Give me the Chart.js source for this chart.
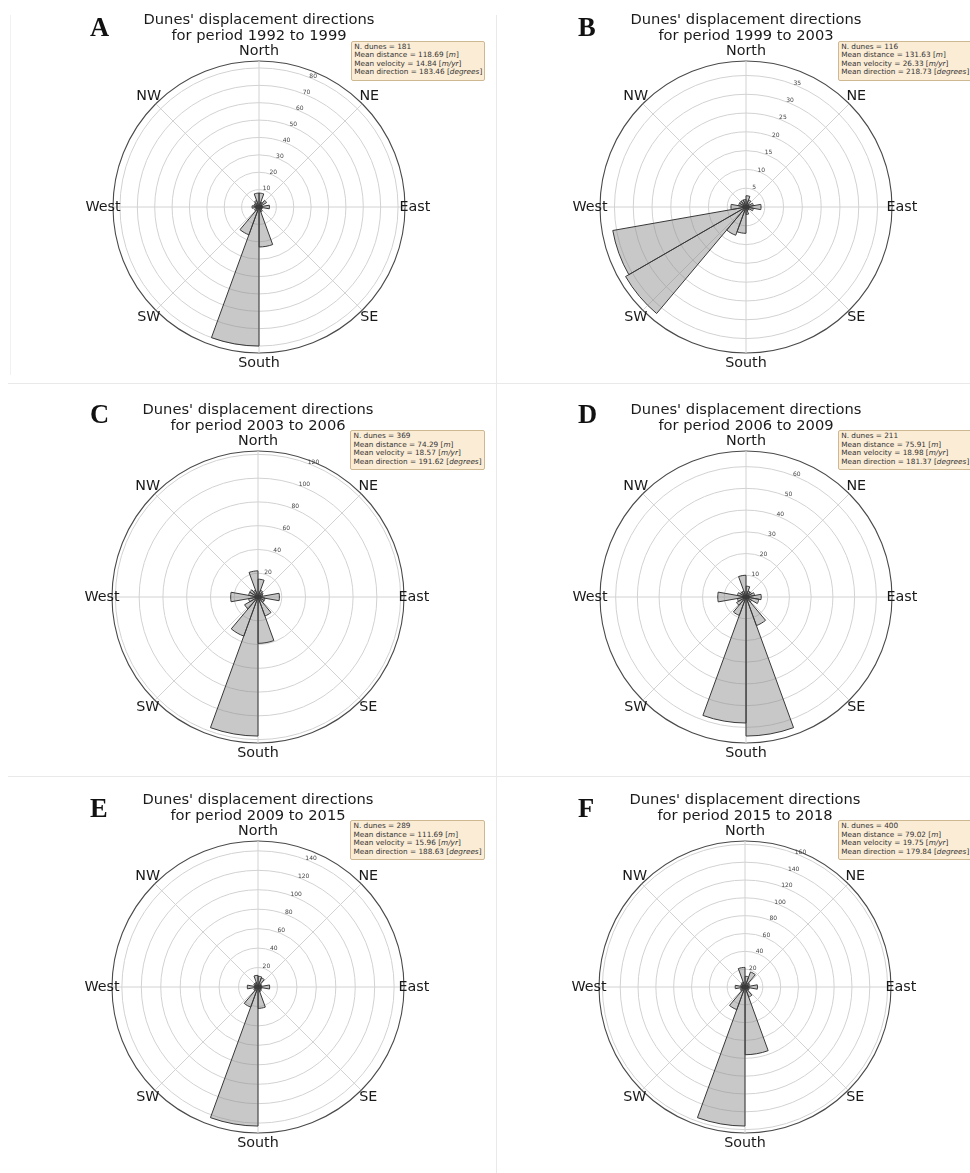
<!DOCTYPE html>
<html><head><meta charset="utf-8">
<script src="https://cdn.jsdelivr.net/npm/chart.js@4"></script>
<style>
html,body{margin:0;padding:0;background:#fff;overflow:hidden;}
#page{position:relative;width:970px;height:1173px;}
canvas{position:absolute;}
.letter{position:absolute;font-family:'Liberation Serif','DejaVu Serif',serif;font-weight:bold;font-size:26.5px;line-height:26.5px;color:#111;}
.info{position:absolute;font-family:'DejaVu Sans',sans-serif;font-size:7.3px;line-height:8.6px;color:#333;background:#fbecd5;border:1px solid #cdb892;border-radius:2px;padding:1px 2px 2.5px 2.5px;white-space:nowrap;}
.sep{position:absolute;background:#e9e9e9;}
</style></head><body><div id="page"></div>
<script>
// ---- data ----
const binLabels = ['0-20°','20-40°','40-60°','60-80°','80-100°','100-120°','120-140°','140-160°','160-180°',
                   '180-200°','200-220°','220-240°','240-260°','260-280°','280-300°','300-320°','320-340°','340-360°'];
const compassLabels = ['North','NE','East','SE','South','SW','West','NW'];
const panelLetters = ['A','B','C','D','E','F'];
const periods = ['1992 to 1999','1999 to 2003','2003 to 2006','2006 to 2009','2009 to 2015','2015 to 2018'];
const countsA = [8, 3, 5, 2, 6, 2, 2, 3, 23, 80, 17, 3, 2, 4, 3, 3, 4, 8];
const countsB = [3, 2, 1, 2, 4, 2, 1, 1, 2, 7, 8, 37, 36, 4, 2, 2, 2, 2];
const countsC = [15, 6, 5, 4, 18, 6, 6, 17, 39, 117, 35, 13, 8, 23, 8, 8, 6, 22];
const countsD = [5, 3, 3, 4, 7, 6, 3, 14, 64, 58, 9, 5, 4, 13, 4, 3, 3, 10];
const countsE = [11, 10, 4, 4, 12, 4, 4, 5, 22, 143, 22, 5, 4, 11, 4, 5, 5, 12];
const countsF = [12, 18, 6, 5, 14, 5, 5, 12, 76, 156, 27, 6, 5, 11, 5, 5, 6, 22];
const tickStep = [10, 5, 20, 10, 20, 20];
const nDunes = [181, 116, 369, 211, 289, 400];
const meanDistance = ['118.69','131.63','74.29','75.91','111.69','79.02'];
const meanVelocity = ['14.84','26.33','18.57','18.98','15.96','19.75'];
const meanDirection = ['183.46','218.73','191.62','181.37','188.63','179.84'];
const allCounts = [countsA, countsB, countsC, countsD, countsE, countsF];

// ---- layout (positions only) ----
const centers = [[259,207],[746,207],[258,597],[746,597],[258,987],[745,987]];
const letterPos = [[90,36],[578,36],[90,422.7],[578,422.7],[90,817],[578,817]];
const infoPos = [[350.7,40.7],[837.7,40.7],[350,430],[837.7,430],[350,820],[837.7,820]];

const page = document.getElementById('page');
function addDiv(cls, css, html){const d=document.createElement('div');d.className=cls;Object.assign(d.style,css);if(html!==undefined)d.innerHTML=html;page.appendChild(d);return d;}
// panel separators
addDiv('sep',{left:'496px',top:'15px',width:'1px',height:'1158px'});
addDiv('sep',{left:'8px',top:'383px',width:'962px',height:'1px'});
addDiv('sep',{left:'8px',top:'776px',width:'962px',height:'1px'});
addDiv('sep',{left:'10px',top:'15px',width:'1px',height:'360px',background:'#f1f1f1'});

const isFrame = c => c.tick && Math.abs(c.tick.value - c.scale.max) < 1e-6;

const roseDecor = {
  id:'roseDecor',
  beforeDatasetsDraw(chart){
    const s = chart.scales.r, ctx = chart.ctx;
    const rr = s.getDistanceFromCenterForValue(s.max);
    ctx.save();
    ctx.strokeStyle = '#d2d2d2'; ctx.lineWidth = 1;
    for (let k = 0; k < compassLabels.length; k++) {
      const a = (k*45 - 90) * Math.PI/180;
      ctx.beginPath(); ctx.moveTo(s.xCenter, s.yCenter);
      ctx.lineTo(s.xCenter + rr*Math.cos(a), s.yCenter + rr*Math.sin(a)); ctx.stroke();
    }
    ctx.restore();
  },
  afterDraw(chart){
    const s = chart.scales.r, ctx = chart.ctx;
    const rr = s.getDistanceFromCenterForValue(s.max);
    ctx.save();
    ctx.textAlign = 'center'; ctx.textBaseline = 'middle';
    ctx.fillStyle = '#1a1a1a'; ctx.font = '14.3px "DejaVu Sans"';
    compassLabels.forEach((lab, k) => {
      const a = (k*45 - 90) * Math.PI/180, d = rr*1.068;
      ctx.fillText(lab, s.xCenter + d*Math.cos(a), s.yCenter + d*Math.sin(a));
    });
    ctx.fillStyle = '#444'; ctx.font = '6px "DejaVu Sans"';
    const a = (22.5 - 90) * Math.PI/180;
    s.ticks.forEach(t => {
      if (t.value <= 0 || Math.abs(t.value - s.max) < 1e-6) return;
      const d = s.getDistanceFromCenterForValue(t.value) + 2.5;
      ctx.fillText(String(t.value), s.xCenter + d*Math.cos(a), s.yCenter + d*Math.sin(a));
    });
    ctx.restore();
  }
};

allCounts.forEach((counts, i) => {
  const [cx, cy] = centers[i];
  const cv = document.createElement('canvas');
  cv.width = 400; cv.height = 375;
  cv.style.left = (cx - 200) + 'px'; cv.style.top = (cy - 200) + 'px';
  page.appendChild(cv);
  const rmax = Math.round(Math.max(...counts) * 1.05 * 100) / 100;
  const step = tickStep[i];
  new Chart(cv, {
    type: 'polarArea',
    data: { labels: binLabels, datasets: [{ data: counts, backgroundColor: 'rgba(140,140,140,0.48)', borderColor: '#383838', borderWidth: 1 }] },
    options: {
      responsive: false, animation: false, events: [],
      layout: { padding: { left: 54, right: 54, top: 0, bottom: 29 } },
      scales: { r: {
        min: 0, max: rmax, startAngle: 0,
        ticks: { display: false, stepSize: step },
        afterBuildTicks: scale => {
          const out = [];
          for (let v = 0; v < scale.max - 1e-9; v += step) out.push({ value: v });
          out.push({ value: scale.max });
          scale.ticks = out;
        },
        grid: {
          color: c => isFrame(c) ? '#4a4a4a' : '#d2d2d2',
          lineWidth: c => isFrame(c) ? 1.1 : 1
        },
        angleLines: { display: false }, pointLabels: { display: false }
      } },
      plugins: {
        legend: { display: false }, tooltip: { enabled: false },
        title: { display: true, text: ["Dunes' displacement directions", 'for period ' + periods[i]],
          font: { family: 'DejaVu Sans', size: 14.7, weight: 'normal', lineHeight: '15.5px' },
          color: '#1a1a1a', padding: { top: 5.85, bottom: 17.15 } }
      }
    },
    plugins: [roseDecor]
  });
  const [lx, lb] = letterPos[i];
  addDiv('letter', { left: lx + 'px', top: (lb - 22.2) + 'px' }, panelLetters[i]);
  const [ix, iy] = infoPos[i];
  addDiv('info', { left: ix + 'px', top: iy + 'px' },
    'N. dunes = ' + nDunes[i] + '<br>Mean distance = ' + meanDistance[i] + ' [<i>m</i>]' +
    '<br>Mean velocity = ' + meanVelocity[i] + ' [<i>m/yr</i>]' +
    '<br>Mean direction = ' + meanDirection[i] + ' [<i>degrees</i>]');
});
</script></body></html>
